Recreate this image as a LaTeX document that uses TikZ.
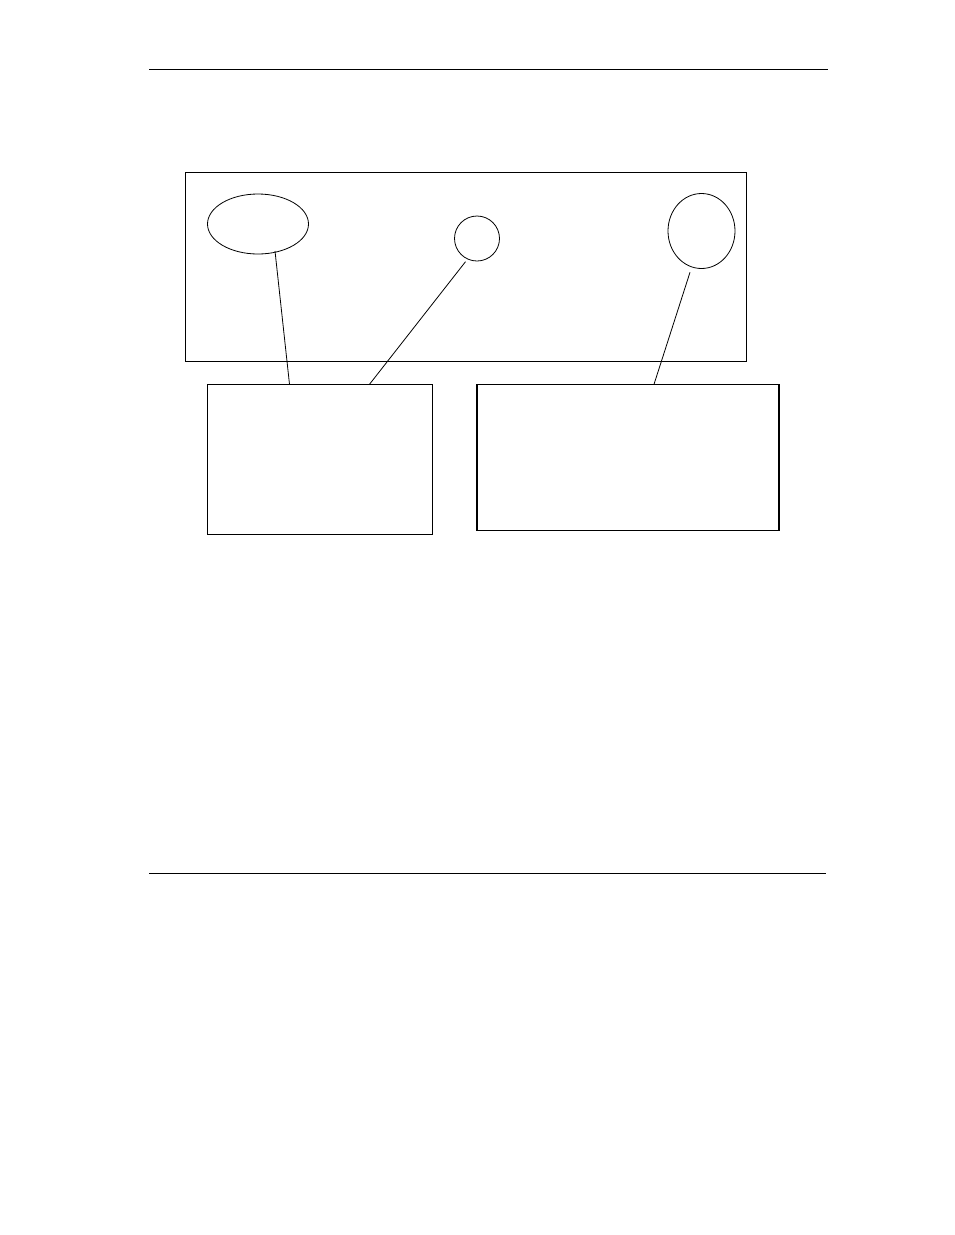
\documentclass[tikz,border=0pt]{standalone}
\usetikzlibrary{shapes.geometric}
\begin{document}
\begin{tikzpicture}[x=1pt,y=-1pt,
  thin line/.style={line width=0.8pt},
  oval/.style={draw,ellipse,inner sep=0pt,thin line},
  panel/.style={draw,rectangle,inner sep=0pt,thin line},
  thickpanel/.style={draw,rectangle,inner sep=0pt,line width=1.7pt},
  rule/.style={line width=0.9pt}]
\useasboundingbox (0,0) rectangle (954,1235);
% header and footer rules
\coordinate (h1) at (149,69); \coordinate (h2) at (828,69);
\coordinate (f1) at (149,873); \coordinate (f2) at (826,873);
\draw[rule] (h1) -- (h2);
\draw[rule] (f1) -- (f2);
% main panel
\node[panel,minimum width=561pt,minimum height=189pt] (main) at (465.5,266.5) {};
% shapes inside
\node[oval,minimum width=101pt,minimum height=60pt] (e1) at (258,224) {};
\node[oval,minimum width=45pt,minimum height=45pt] (e2) at (477,238.5) {};
\node[oval,minimum width=67pt,minimum height=75pt] (e3) at (701.5,231) {};
% lower boxes
\node[panel,minimum width=225pt,minimum height=150pt] (lb) at (320,459.3) {};
\node[thickpanel,minimum width=302pt,minimum height=146pt] (rb) at (628,457.5) {};
% connector end points
\coordinate (a1) at (275,251);
\coordinate (b1) at (289.5,384.3);
\coordinate (a2) at (465.5,261.7);
\coordinate (b2) at (369.5,384.3);
\coordinate (a3) at (690,272.3);
\coordinate (b3) at (654,384.3);
\draw[thin line] (a1) -- (b1);
\draw[thin line] (a2) -- (b2);
\draw[thin line] (a3) -- (b3);
\end{tikzpicture}
\end{document}
